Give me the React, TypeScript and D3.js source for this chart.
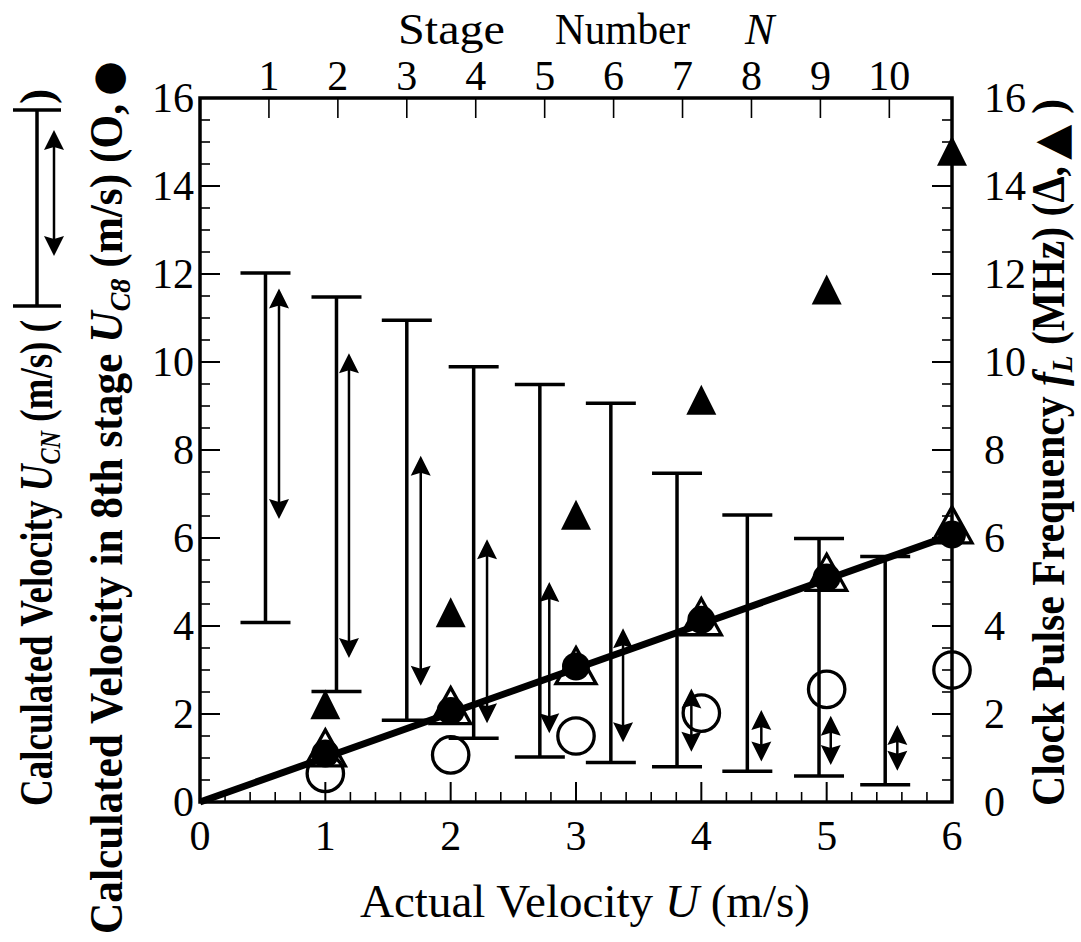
import React from "react";
import * as d3 from "d3";

// ---------- axes ----------
const U_TICKS = [0, 1, 2, 3, 4, 5, 6];
const Y_TICKS = [0, 2, 4, 6, 8, 10, 12, 14, 16];
const STAGE_TICKS = [1, 2, 3, 4, 5, 6, 7, 8, 9, 10];
const U_PER_STAGE = 0.55; // stage N sits at U = 0.55 * N on the top axis

// ---------- calculated velocity U_CN range (I-bars) per stage ----------
const barStage = [0.95, 1.98, 3.0, 3.97, 4.93, 5.96, 6.92, 7.94, 8.98, 9.94];
const barTop = [12.02, 11.48, 10.95, 9.89, 9.49, 9.06, 7.47, 6.52, 5.99, 5.58];
const barBottom = [4.08, 2.51, 1.86, 1.45, 1.02, 0.9, 0.8, 0.7, 0.59, 0.39];

// ---------- double arrows per stage ----------
const arrowStage = [1.146, 2.161, 3.202, 4.164, 5.067, 6.137, 7.128, 8.143, 9.15, 10.116];
const arrowTop = [11.67, 10.2, 7.87, 5.97, 5.0, 3.95, 2.58, 2.09, 1.96, 1.75];
const arrowBottom = [6.43, 3.27, 2.64, 1.79, 1.56, 1.36, 1.14, 0.92, 0.84, 0.71];

// ---------- point series vs actual velocity ----------
const actualU = [1, 2, 3, 4, 5, 6];
const uc8Filled = [1.1, 2.07, 3.08, 4.14, 5.1, 6.08];
const uc8Open = [0.65, 1.07, 1.5, 2.02, 2.56, 3.0];
const fLOpen = [1.23, 2.19, 3.1, 4.21, 5.22, 6.3];
const fLFilled = [2.22, 4.31, 6.53, 9.14, 11.65, 14.8];
const fitU = [0, 6];
const fitV = [0, 6.07];

const SERIF = "'Liberation Serif', 'Times New Roman', Times, serif";
const SYM = "'DejaVu Sans', sans-serif";

export default function App() {
  const W = 1081;
  const H = 942;
  const L = 200, R = 952, T = 98, B = 802;
  const x = d3.scaleLinear().domain([0, 6]).range([L, R]);
  const y = d3.scaleLinear().domain([0, 16]).range([B, T]);
  const yR = d3.scaleLinear().domain([0, 16]).range([B, T]);
  const xs = d3.scaleLinear().domain([0, 6 / U_PER_STAGE]).range([L, R]);

  const minorX = d3.range(0, 6.0001, 0.2).filter((v) => Math.abs(v - Math.round(v)) > 1e-6);
  const minorY = d3.range(0, 16.0001, 0.5).filter((v) => Math.abs(v / 2 - Math.round(v / 2)) > 1e-6);

  const line = d3.line<[number, number]>().x((d) => x(d[0])).y((d) => y(d[1]));
  const fitPts: [number, number][] = fitU.map((u, i) => [u, fitV[i]]);

  const head = (cx: number, tip: number, dir: number) =>
    `M${cx},${tip} L${cx + 10},${tip + 20 * dir} L${cx},${tip + 17 * dir} L${cx - 10},${tip + 20 * dir} Z`;

  const capHalf = 25;
  const stroke = "#000";

  return (
    <svg width={W} height={H} style={{ position: "absolute", left: 0, top: 0, background: "#fff" }}>
      <rect x={0} y={0} width={W} height={H} fill="#fff" />

      {/* I-bars */}
      {barStage.map((s, i) => {
        const cx = xs(s);
        return (
          <g key={"bar" + i} stroke={stroke} strokeWidth={3.5}>
            <line x1={cx} x2={cx} y1={y(barTop[i])} y2={y(barBottom[i])} />
            <line x1={cx - capHalf} x2={cx + capHalf} y1={y(barTop[i])} y2={y(barTop[i])} />
            <line x1={cx - capHalf} x2={cx + capHalf} y1={y(barBottom[i])} y2={y(barBottom[i])} />
          </g>
        );
      })}

      {/* double arrows */}
      {arrowStage.map((s, i) => {
        const cx = xs(s);
        const t = y(arrowTop[i]);
        const b = y(arrowBottom[i]);
        return (
          <g key={"arr" + i}>
            <line x1={cx} x2={cx} y1={t + 16} y2={b - 16} stroke={stroke} strokeWidth={2.5} />
            <path d={head(cx, t, 1)} fill="#000" />
            <path d={head(cx, b, -1)} fill="#000" />
          </g>
        );
      })}

      {/* fitted line */}
      <path d={line(fitPts) || ""} fill="none" stroke="#000" strokeWidth={7} strokeLinecap="butt" />

      {/* open triangles f_L */}
      {actualU.map((u, i) => {
        const cx = x(u);
        const cy = yR(fLOpen[i]);
        return (
          <path
            key={"ot" + i}
            d={`M${cx},${cy - 18} L${cx + 20},${cy + 18} L${cx - 20},${cy + 18} Z`}
            fill="none"
            stroke="#000"
            strokeWidth={3.3}
          />
        );
      })}

      {/* open circles U_C8 */}
      {actualU.map((u, i) => (
        <circle key={"oc" + i} cx={x(u)} cy={y(uc8Open[i])} r={18.2} fill="none" stroke="#000" strokeWidth={3.3} />
      ))}

      {/* filled circles U_C8 */}
      {actualU.map((u, i) => (
        <circle key={"fc" + i} cx={x(u)} cy={y(uc8Filled[i])} r={14} fill="#000" />
      ))}

      {/* filled triangles f_L */}
      {actualU.map((u, i) => {
        const cx = x(u);
        const cy = yR(fLFilled[i]);
        return <path key={"ft" + i} d={`M${cx},${cy - 15} L${cx + 15},${cy + 15} L${cx - 15},${cy + 15} Z`} fill="#000" />;
      })}

      {/* ticks */}
      <g stroke="#000">
        {U_TICKS.map((v) => (
          <line key={"bx" + v} x1={x(v)} x2={x(v)} y1={B} y2={B - 20} strokeWidth={2} />
        ))}
        {minorX.map((v) => (
          <line key={"bmx" + v} x1={x(v)} x2={x(v)} y1={B} y2={B - 10} strokeWidth={1.6} />
        ))}
        {Y_TICKS.map((v) => (
          <line key={"ly" + v} x1={L} x2={L + 20} y1={y(v)} y2={y(v)} strokeWidth={2} />
        ))}
        {minorY.map((v) => (
          <line key={"lmy" + v} x1={L} x2={L + 10} y1={y(v)} y2={y(v)} strokeWidth={1.6} />
        ))}
        {Y_TICKS.map((v) => (
          <line key={"ry" + v} x1={R} x2={R - 20} y1={yR(v)} y2={yR(v)} strokeWidth={2} />
        ))}
        {minorY.map((v) => (
          <line key={"rmy" + v} x1={R} x2={R - 10} y1={yR(v)} y2={yR(v)} strokeWidth={1.6} />
        ))}
        {STAGE_TICKS.map((n) => (
          <line key={"tn" + n} x1={xs(n)} x2={xs(n)} y1={T} y2={T + 20} strokeWidth={1.6} />
        ))}
      </g>

      {/* frame */}
      <rect x={L} y={T} width={R - L} height={B - T} fill="none" stroke="#000" strokeWidth={3.5} />

      {/* tick labels */}
      <g fontFamily={SERIF} fontSize={42} fill="#000">
        {U_TICKS.map((v) => (
          <text key={"xl" + v} x={x(v)} y={850} textAnchor="middle">
            {v}
          </text>
        ))}
        {Y_TICKS.map((v) => (
          <text key={"yl" + v} x={194} y={y(v) + 14} textAnchor="end">
            {v}
          </text>
        ))}
        {Y_TICKS.map((v) => (
          <text key={"yr" + v} x={984} y={yR(v) + 14} textAnchor="start">
            {v}
          </text>
        ))}
        {STAGE_TICKS.map((n) => (
          <text key={"sl" + n} x={xs(n)} y={90} textAnchor="middle">
            {n}
          </text>
        ))}
      </g>

      {/* top title */}
      <g fontFamily={SERIF} fontSize={44} fill="#000">
        <text x={398} y={44} textLength={107} lengthAdjust="spacingAndGlyphs">Stage</text>
        <text x={555} y={44} textLength={135} lengthAdjust="spacingAndGlyphs">Number</text>
        <text x={745} y={44} fontStyle="italic">N</text>
      </g>

      {/* bottom title */}
      <text x={360} y={917} fontFamily={SERIF} fontSize={46} textLength={450} lengthAdjust="spacingAndGlyphs">
        {"Actual Velocity "}
        <tspan fontStyle="italic">U</tspan>
        {" (m/s)"}
      </text>

      {/* left title 1 */}
      <g transform="translate(52,806) rotate(-90)" fontFamily={SERIF} fontWeight="bold" fontSize={46}>
        <text x={0} y={0} textLength={486} lengthAdjust="spacingAndGlyphs">
          {"Calculated Velocity "}
          <tspan fontStyle="italic">U</tspan>
          <tspan fontStyle="italic" fontSize={30} dy={8}>CN</tspan>
          <tspan dy={-8}>{" (m/s) ("}</tspan>
        </text>
      </g>
      <g stroke="#000">
        <line x1={37} x2={37} y1={110} y2={306} strokeWidth={3.5} />
        <line x1={13} x2={61} y1={110} y2={110} strokeWidth={3.5} />
        <line x1={13} x2={61} y1={306} y2={306} strokeWidth={3.5} />
        <line x1={54} x2={54} y1={146} y2={240} strokeWidth={2.5} />
      </g>
      <path d={head(54, 130, 1)} fill="#000" />
      <path d={head(54, 256, -1)} fill="#000" />
      <g transform="translate(52,104) rotate(-90)" fontFamily={SERIF} fontWeight="bold" fontSize={46}>
        <text x={0} y={0}>)</text>
      </g>

      {/* left title 2 */}
      <g transform="translate(122,934) rotate(-90)" fontFamily={SERIF} fontWeight="bold" fontSize={46}>
        <text x={0} y={0} textLength={830} lengthAdjust="spacingAndGlyphs">
          {"Calculated Velocity in 8th stage "}
          <tspan fontStyle="italic">U</tspan>
          <tspan fontStyle="italic" fontSize={30} dy={8}>C8</tspan>
          <tspan dy={-8}>{" (m/s) (O,"}</tspan>
        </text>
      </g>
      <g transform="translate(121,96) rotate(-90)">
        <text x={0} y={0} fontFamily={SYM} fontSize={40}>●</text>
      </g>

      {/* right title */}
      <g transform="translate(1064,806) rotate(-90)" fontFamily={SERIF} fontWeight="bold" fontSize={46}>
        <text x={0} y={0} textLength={640} lengthAdjust="spacingAndGlyphs">
          {"Clock Pulse Frequency "}
          <tspan fontStyle="italic">f</tspan>
          <tspan fontStyle="italic" fontSize={30} dy={8}>L</tspan>
          <tspan dy={-8}>{" (MHz) (Δ,"}</tspan>
        </text>
      </g>
      <g transform="translate(1066,160) rotate(-90)">
        <text x={0} y={0} fontFamily={SYM} fontSize={46}>▲</text>
      </g>
      <g transform="translate(1064,114) rotate(-90)" fontFamily={SERIF} fontWeight="bold" fontSize={46}>
        <text x={0} y={0}>)</text>
      </g>
    </svg>
  );
}
